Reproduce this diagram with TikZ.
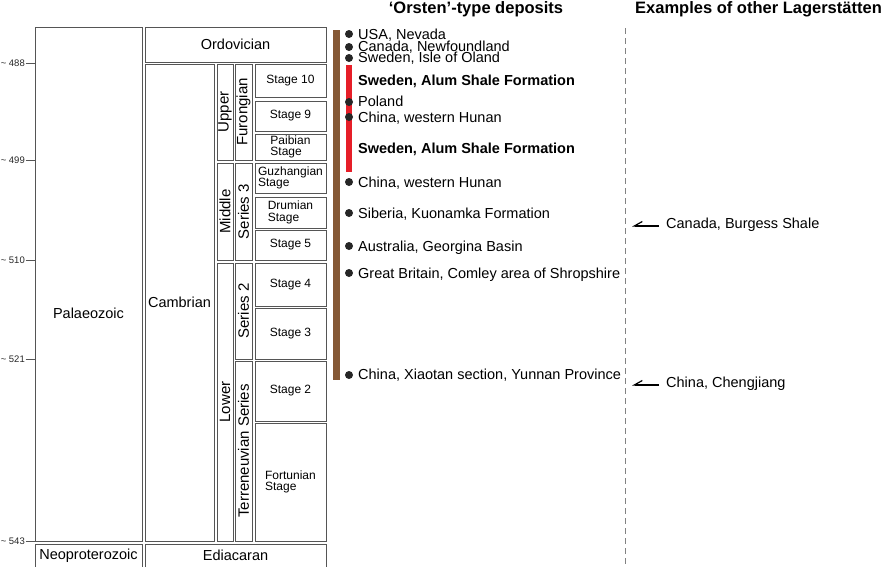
\documentclass[tikz,border=0pt]{standalone}
\usepackage{fontspec}
\setmainfont{Liberation Sans}
\usetikzlibrary{arrows.meta}
\definecolor{boxgray}{RGB}{85,85,85}
\definecolor{barbrown}{RGB}{133,88,53}
\definecolor{barred}{RGB}{230,30,40}
\definecolor{dashgray}{RGB}{130,130,130}

\begin{document}
\begin{tikzpicture}[x=1pt, y=-1pt,
    unitbox/.style ={draw=boxgray, line width=0.8pt, inner sep=0pt, align=center,
                     font=\fontsize{14.5}{15}\selectfont},
    epochbox/.style ={unitbox, rotate=90, font=\fontsize{15}{15}\selectfont},
    stagebox/.style ={unitbox, minimum width=71pt, align=left,
                     font=\fontsize{12}{11.5}\selectfont},
    agelabel/.style ={anchor=east, inner sep=0.5pt, text=black!85, font=\fontsize{9.5}{9.5}\selectfont},
    deposit/.style ={anchor=west, inner xsep=0pt, text height=0.9em, text depth=0.18em,
                     font=\fontsize{14.5}{15}\selectfont},
    dot/.style ={circle, fill=black!85, inner sep=0pt, minimum size=8pt},
    heading/.style ={font=\bfseries\fontsize{16.5}{17}\selectfont},
    lagarrow/.style ={-{Straight Barb[harpoon,swap,length=8pt,width=9pt]}, line width=1.2pt}]
   \useasboundingbox (0,0) rectangle (881,566);

   % time scale columns
   \node[unitbox, minimum width=107pt, minimum height=514pt] (palaeo) at (88.5,284) {};
   \node[font=\fontsize{14.5}{15}\selectfont] (palaeotext) at (88.5,313) {Palaeozoic};
   \node[unitbox, minimum width=107pt, minimum height=23pt] (neopro) at (88.5,555.5) {Neoproterozoic};
   \node[unitbox, minimum width=181pt, minimum height=35pt] (ordov) at (235.5,44.5) {Ordovician};
   \node[unitbox, minimum width=69pt, minimum height=477pt] (cambr) at (179.5,302.5) {Cambrian};
   \node[unitbox, minimum width=181pt, minimum height=23pt] (ediac) at (235.5,555.5) {Ediacaran};

   \node[epochbox, minimum width=96pt, minimum height=16pt] (upper) at (225,112) {Upper};
   \node[epochbox, minimum width=97pt, minimum height=16pt] (middle) at (225,211.5) {Middle};
   \node[epochbox, minimum width=278pt, minimum height=16pt] (lower) at (225,402) {Lower};
   \node[epochbox, minimum width=96pt, minimum height=17pt] (furong) at (243.5,112) {Furongian};
   \node[epochbox, minimum width=97pt, minimum height=17pt] (seriesthree) at (243.5,211.5) {Series 3};
   \node[epochbox, minimum width=96pt, minimum height=17pt] (seriestwo) at (243.5,311) {Series 2};
   \node[epochbox, minimum width=180pt, minimum height=17pt] (terren) at (243.5,451) {Terreneuvian Series};

   \node[stagebox, minimum height=33pt] (stten) at (290.5,80.5) {Stage 10};
   \node[stagebox, minimum height=30pt] (stnine) at (290.5,116) {Stage 9};
   \node[stagebox, minimum height=26pt] (paibian) at (290.5,147) {Paibian\\Stage};
   \node[stagebox, minimum height=30pt] (guzhang) at (290.5,178) {Guzhangian\\Stage};
   \node[stagebox, minimum height=31pt] (drumian) at (290.5,212.5) {Drumian\\Stage};
   \node[stagebox, minimum height=30pt] (stfive) at (290.5,245) {Stage 5};
   \node[stagebox, minimum height=43pt] (stfour) at (290.5,284.5) {Stage 4};
   \node[stagebox, minimum height=51pt] (stthree) at (290.5,333.5) {Stage 3};
   \node[stagebox, minimum height=60pt] (sttwo) at (290.5,391) {Stage 2};
   \node[stagebox, minimum height=118pt] (fortun) at (290.5,482) {Fortunian\\Stage};

   % ages
   \node[agelabel] (a488) at (25.5,63) {\textasciitilde\ 488};
   \node[agelabel] (a499) at (25.5,160) {\textasciitilde\ 499};
   \node[agelabel] (a510) at (25.5,260) {\textasciitilde\ 510};
   \node[agelabel] (a521) at (25.5,359) {\textasciitilde\ 521};
   \node[agelabel] (a543) at (25.5,541) {\textasciitilde\ 543};
   \draw[boxgray, line width=0.8pt] (a488.east) -- (a488.east -| palaeo.west);
   \draw[boxgray, line width=0.8pt] (a499.east) -- (a499.east -| palaeo.west);
   \draw[boxgray, line width=0.8pt] (a510.east) -- (a510.east -| palaeo.west);
   \draw[boxgray, line width=0.8pt] (a521.east) -- (a521.east -| palaeo.west);
   \draw[boxgray, line width=0.8pt] (a543.east) -- (a543.east -| palaeo.west);

   % Orsten deposits
   \node[heading] (orstenhead) at (476,9) {‘Orsten’-type deposits};
   \fill[barbrown] (333,30) rectangle (340,380);
   \fill[barred] (346,65) rectangle (352,172);

   \node[dot] (dnevada) at (349,34) {};
   \node[dot] (dnewfound) at (349,47) {};
   \node[dot] (doland) at (349,58) {};
   \node[dot] (dpoland) at (349,102) {};
   \node[dot] (dhunanone) at (349,117) {};
   \node[dot] (dhunantwo) at (349,182) {};
   \node[dot] (dsiberia) at (349,213) {};
   \node[dot] (daustralia) at (349,246) {};
   \node[dot] (dcomley) at (349,273) {};
   \node[dot] (dxiaotan) at (349,375) {};

   \node[deposit] (nevada) at (358,36) {USA, Nevada};
   \node[deposit] (newfound) at (358,47.5) {Canada, Newfoundland};
   \node[deposit] (oland) at (358,58.5) {Sweden, Isle of Oland};
   \node[deposit, font=\bfseries\fontsize{14.5}{15}\selectfont] (alumone) at (358,82) {Sweden, Alum Shale Formation};
   \node[deposit] (poland) at (358,102.5) {Poland};
   \node[deposit] (hunanone) at (358,118.5) {China, western Hunan};
   \node[deposit, font=\bfseries\fontsize{14.5}{15}\selectfont] (alumtwo) at (358,149.5) {Sweden, Alum Shale Formation};
   \node[deposit] (hunantwo) at (358,183.5) {China, western Hunan};
   \node[deposit] (siberia) at (358,214.5) {Siberia, Kuonamka Formation};
   \node[deposit] (australia) at (358,247.5) {Australia, Georgina Basin};
   \node[deposit] (comley) at (358,274.5) {Great Britain, Comley area of Shropshire};
   \node[deposit] (xiaotan) at (358,375.5) {China, Xiaotan section, Yunnan Province};

   % other Lagerstaetten
   \node[heading, anchor=west, inner xsep=0pt] (laghead) at (635,9) {Examples of other Lagerstätten};
   \coordinate (lagtop) at (625,28);
   \coordinate (lagbot) at (625,566);
   \draw[dashgray, line width=0.9pt, dash pattern=on 6pt off 4pt] (lagtop) -- (lagbot);

   \node[deposit] (burgess) at (666,224.5) {Canada, Burgess Shale};
   \node[deposit] (chengjiang) at (666,383.5) {China, Chengjiang};
   \coordinate (burgesstip) at (632,226);
   \coordinate (chengtip) at (632,385);
   \draw[lagarrow] ([xshift=-7pt, yshift=-1.5pt]burgess.west) -- (burgesstip);
   \draw[lagarrow] ([xshift=-7pt, yshift=-1.5pt]chengjiang.west) -- (chengtip);
 \end{tikzpicture}
\end{document}
